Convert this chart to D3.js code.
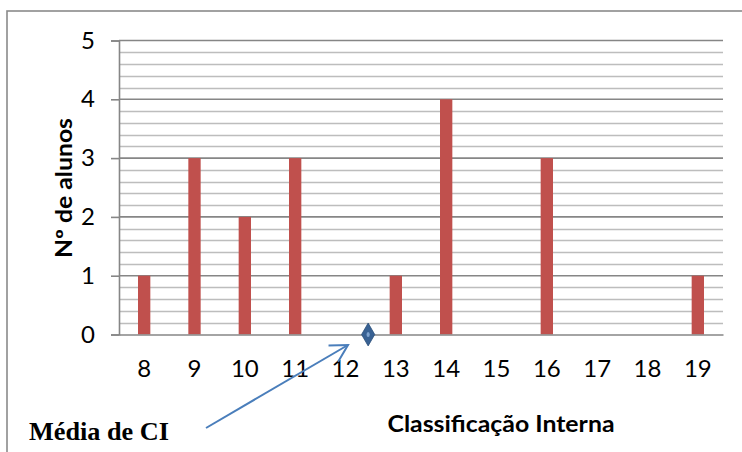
<!DOCTYPE html>
<html>
<head>
<meta charset="utf-8">
<script src="https://cdn.jsdelivr.net/npm/d3@7"></script>
<style>
  html, body { margin: 0; padding: 0; background: #fff; }
  svg { display: block; }
</style>
</head>
<body>
<div id="graph"></div>
<script>
// notas de classificação interna e nº de alunos
const categories = [8, 9, 10, 11, 12, 13, 14, 15, 16, 17, 18, 19];
const counts = [1, 3, 2, 3, 0, 1, 4, 0, 3, 0, 0, 1];
const yTicks = [0, 1, 2, 3, 4, 5];
const meanCI = 12.45;

const W = 742, H = 452;
const plot = { left: 119, right: 723, top: 40.5, bottom: 334.5 };
const sans = "Lato, 'Open Sans', sans-serif";

const svg = d3.select("#graph").append("svg")
    .attr("width", W)
    .attr("height", H);

// outer frame (cropped on the right and bottom)
svg.append("rect")
    .attr("x", 7).attr("y", 11)
    .attr("width", 800).attr("height", 500)
    .attr("fill", "none")
    .attr("stroke", "#8a8a8a")
    .attr("stroke-width", 1.6);

const x = d3.scaleBand()
    .domain(categories.map(String))
    .range([plot.left, plot.right])
    .padding(0);
const y = d3.scaleLinear().domain([0, 5]).range([plot.bottom, plot.top]);
const xc = d => x(String(d)) + x.bandwidth() / 2;
const xLin = d3.scaleLinear()
    .domain([categories[0], categories[categories.length - 1]])
    .range([xc(categories[0]), xc(categories[categories.length - 1])]);

// minor gridlines every 0.2
const minor = d3.range(1, 25).map(i => i * 0.2).filter(v => Math.abs(v - Math.round(v)) > 1e-6);
svg.append("g").selectAll("line")
    .data(minor)
    .enter().append("line")
    .attr("x1", plot.left).attr("x2", plot.right)
    .attr("y1", d => Math.round(y(d)) + 0.5).attr("y2", d => Math.round(y(d)) + 0.5)
    .attr("stroke", "#bdbdbd")
    .attr("stroke-width", 1.3);

// major gridlines + left axis
const yAxis = d3.axisLeft(y)
    .tickValues(yTicks)
    .tickFormat(d3.format("d"))
    .tickSize(plot.left - 111)
    .tickPadding(16);
const gy = svg.append("g")
    .attr("transform", `translate(${plot.left},0)`)
    .call(yAxis);
gy.select(".domain").attr("stroke", "#868686").attr("stroke-width", 1.6);
gy.selectAll(".tick line").attr("stroke", "#868686").attr("stroke-width", 1.6);
gy.selectAll(".tick text")
    .attr("fill", "#000")
    .style("font-family", sans)
    .style("font-size", "24px");

svg.append("g").selectAll("line")
    .data(yTicks.filter(d => d > 0))
    .enter().append("line")
    .attr("x1", plot.left).attr("x2", plot.right)
    .attr("y1", d => y(d)).attr("y2", d => y(d))
    .attr("stroke", "#868686")
    .attr("stroke-width", 1.6);

// bars
const barW = x.bandwidth() * 0.245;
svg.append("g").selectAll("rect")
    .data(categories.map((c, i) => ({ c, v: counts[i] })).filter(d => d.v > 0))
    .enter().append("rect")
    .attr("x", d => xc(d.c) - barW / 2)
    .attr("y", d => y(d.v))
    .attr("width", barW)
    .attr("height", d => y(0) - y(d.v))
    .attr("fill", "#c0504d");

// category axis (baseline at 0)
const xAxis = d3.axisBottom(x).tickSize(0).tickPadding(25);
const gx = svg.append("g")
    .attr("transform", `translate(0,${y(0)})`)
    .call(xAxis);
gx.select(".domain").attr("stroke", "#868686").attr("stroke-width", 1.6);
gx.selectAll(".tick text")
    .attr("fill", "#000")
    .style("font-family", sans)
    .style("font-size", "24px");

// mean marker
const mg = svg.append("g")
    .attr("transform", `translate(${xLin(meanCI)},${y(0)})`);
mg.append("path")
    .attr("d", d3.symbol(d3.symbolDiamond, 150)())
    .attr("fill", "#386193")
    .attr("stroke", "#2b4f7a")
    .attr("stroke-width", 0.8);
mg.append("ellipse")
    .attr("rx", 1.6).attr("ry", 2.6)
    .attr("fill", "#7ea3cf");

// axis titles
svg.append("text")
    .attr("transform", `translate(72,188) rotate(-90)`)
    .attr("text-anchor", "middle")
    .attr("textLength", 140)
    .attr("lengthAdjust", "spacingAndGlyphs")
    .style("font-family", sans)
    .style("font-weight", "bold")
    .style("font-size", "22px")
    .text("Nº de alunos");

svg.append("text")
    .attr("x", 501).attr("y", 432)
    .attr("text-anchor", "middle")
    .attr("textLength", 227)
    .attr("lengthAdjust", "spacingAndGlyphs")
    .style("font-family", sans)
    .style("font-weight", "bold")
    .style("font-size", "22px")
    .text("Classificação Interna");

// annotation
svg.append("defs").append("marker")
    .attr("id", "arrow")
    .attr("viewBox", "-20 -12 24 24")
    .attr("refX", 0).attr("refY", 0)
    .attr("markerWidth", 24).attr("markerHeight", 24)
    .attr("markerUnits", "userSpaceOnUse")
    .attr("orient", "auto")
    .append("path")
    .attr("d", "M-17,-9.5L0,0L-17,9.5")
    .attr("fill", "none")
    .attr("stroke", "#4a7ebb")
    .attr("stroke-width", 2);

svg.append("line")
    .attr("x1", 206).attr("y1", 428)
    .attr("x2", 348).attr("y2", 345)
    .attr("stroke", "#4a7ebb")
    .attr("stroke-width", 2)
    .attr("marker-end", "url(#arrow)");

svg.append("text")
    .attr("x", 29).attr("y", 440)
    .attr("textLength", 140)
    .attr("lengthAdjust", "spacingAndGlyphs")
    .style("font-family", "'Liberation Serif', 'Times New Roman', serif")
    .style("font-weight", "bold")
    .style("font-size", "25px")
    .text("Média de CI");
</script>
</body>
</html>
